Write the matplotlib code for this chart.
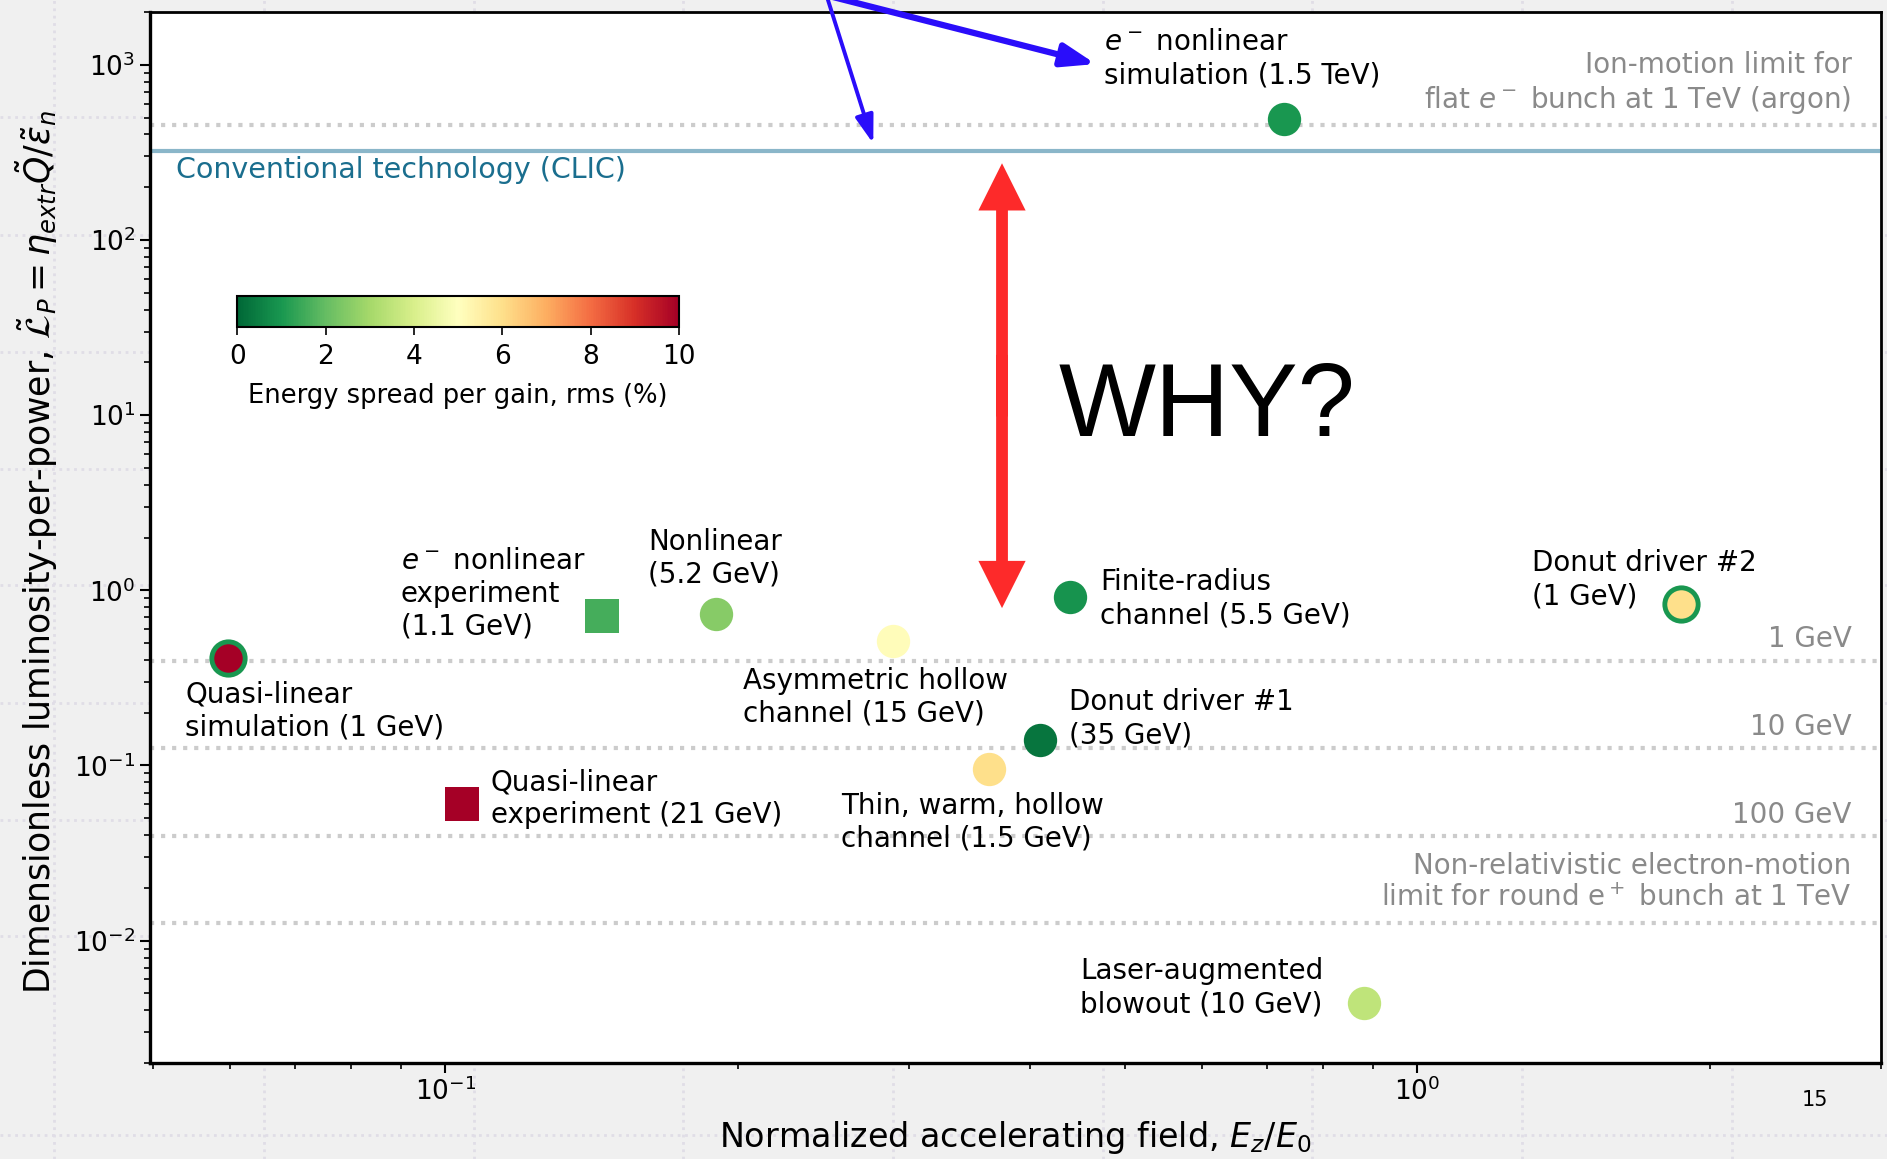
import matplotlib
matplotlib.use("Agg")
import matplotlib.pyplot as plt
import matplotlib.transforms as mtransforms
from matplotlib.lines import Line2D
from matplotlib.patches import FancyArrowPatch

# ---- data ----
point_labels = [
    "Quasi-linear\nsimulation (1 GeV)",
    "Quasi-linear\nexperiment (21 GeV)",
    "$e^-$ nonlinear\nexperiment\n(1.1 GeV)",
    "Nonlinear\n(5.2 GeV)",
    "Asymmetric hollow\nchannel (15 GeV)",
    "Thin, warm, hollow\nchannel (1.5 GeV)",
    "Donut driver #1\n(35 GeV)",
    "Finite-radius\nchannel (5.5 GeV)",
    "$e^-$ nonlinear\nsimulation (1.5 TeV)",
    "Laser-augmented\nblowout (10 GeV)",
    "Donut driver #2\n(1 GeV)",
]
field = [0.0598, 0.104, 0.145, 0.190, 0.289, 0.363, 0.409, 0.439, 0.730, 0.881, 1.867]
lum_per_power = [0.41, 0.060, 0.71, 0.73, 0.515, 0.095, 0.140, 0.91, 493, 0.0044, 0.84]
energy_spread = [10, 10, 1.6, 2.5, 5.1, 6.0, 0.3, 0.9, 1.0, 3.5, 6.0]
is_experiment = [False, True, True, False, False, False, False, False, False, False, False]
ring_spread = [1.0, None, None, None, None, None, None, None, None, None, 1.0]

limit_labels = [
    "Ion-motion limit for\nflat $e^-$ bunch at 1 TeV (argon)",
    "1 GeV",
    "10 GeV",
    "100 GeV",
    "Non-relativistic electron-motion\nlimit for round e$^+$ bunch at 1 TeV",
]
limit_values = [452, 0.397, 0.1265, 0.0397, 0.01265]
clic_value = 323

# "why?" arrow: ends of the double arrow (field, luminosity)
gap_field = 0.374
gap_low, gap_high = 0.791, 274

# label offsets from each marker (points)
label_offsets = [(-31, -16), (21, 26), (-145, 50), (-49, 62), (-108, -19), (-107, -16),
                 (21, 37), (22, 21), (-130, 65), (-204, 33), (-107, 39)]
limit_offsets = [12.5, 9.7, 9.0, 9.4, 12.0]

cmap = plt.get_cmap("RdYlGn_r")
norm = plt.Normalize(0, 10)

fig = plt.figure(figsize=(18.87, 11.59), dpi=100, facecolor="#f0f0f0")

# faint dotted background grid of the page the figure sits on
for xp in [54, 264, 474, 683, 893, 1103, 1312, 1522, 1732]:
    fig.add_artist(Line2D([xp / 1887, xp / 1887], [0, 1], transform=fig.transFigure,
                          color="#e0dde6", lw=2, ls=":", zorder=-1))
for yp in [117, 235, 352, 469, 585, 703, 820, 936, 1135]:
    fig.add_artist(Line2D([0, 1], [1 - yp / 1159, 1 - yp / 1159], transform=fig.transFigure,
                          color="#e0dde6", lw=2, ls=":", zorder=-1))

ax = fig.add_axes([0.0795, 0.0828, 0.9173, 0.9068])
ax.set_xscale("log")
ax.set_yscale("log")
ax.set_xlim(0.0497, 3.0)
ax.set_ylim(0.002, 2000)

# limit lines
lab_trans = mtransforms.blended_transform_factory(ax.transAxes, ax.transData)
for val, txt, off in zip(limit_values, limit_labels, limit_offsets):
    ax.axhline(val, color="#cccccc", lw=3, ls=":", zorder=1)
    ax.annotate(txt, xy=(0.983, val), xycoords=lab_trans, xytext=(0, off),
                textcoords="offset points", ha="right", va="baseline",
                fontsize=20, color="#8a8a8a", multialignment="right", linespacing=1.2)

ax.axhline(clic_value, color="#8ab6c9", lw=3, zorder=1)
ax.annotate("Conventional technology (CLIC)", xy=(0.015, clic_value), xycoords=lab_trans,
            xytext=(0, -4), textcoords="offset points", ha="left", va="top",
            fontsize=20.5, color="#1a6e8e")

# points
for x, y, s, sq, ring in zip(field, lum_per_power, energy_spread, is_experiment, ring_spread):
    edge = cmap(norm(ring)) if ring is not None else cmap(norm(s))
    ax.plot(x, y, marker="s" if sq else "o", ms=25 if sq else 24,
            mfc=cmap(norm(s)), mec=edge, mew=3.5 if ring is not None else 0,
            ls="none", zorder=4)

for x, y, txt, (dx, dy) in zip(field, lum_per_power, point_labels, label_offsets):
    ax.annotate(txt, xy=(x, y), xytext=(dx, dy), textcoords="offset points",
                ha="left", va="top", fontsize=20, linespacing=1.22, zorder=5)

# red double arrow, drawn as two filled arrows that overlap in the middle
gap_mid = (gap_low * gap_high) ** 0.5
for start, end in ((gap_mid * 1.5, gap_low), (gap_mid / 1.5, gap_high)):
    ax.add_patch(FancyArrowPatch((gap_field, start), (gap_field, end),
                                 arrowstyle="simple,head_length=34,head_width=34,tail_width=8.5",
                                 mutation_scale=1, lw=0, color="#fd2a2a",
                                 shrinkA=0, shrinkB=0, zorder=3))
ax.text(0.4278, 7.59, "WHY?", fontsize=74, family="Liberation Sans", va="baseline", ha="left")

# blue arrows coming in from above the frame
blue1 = FancyArrowPatch((0.210, 3130), (0.467, 1010),
                        arrowstyle="-|>,head_length=20,head_width=7",
                        mutation_scale=1, lw=4.5, color="#2a0dfa",
                        shrinkA=0, shrinkB=0, clip_on=False, zorder=6)
blue2 = FancyArrowPatch((0.2436, 3130), (0.2757, 355),
                        arrowstyle="-|>,head_length=17,head_width=5.5",
                        mutation_scale=1, lw=2.8, color="#2a0dfa",
                        shrinkA=0, shrinkB=0, clip_on=False, zorder=6)
ax.add_patch(blue1)
ax.add_patch(blue2)

# axes styling
for side in ["left", "bottom"]:
    ax.spines[side].set_linewidth(2.4)
for side in ["top", "right"]:
    ax.spines[side].set_linewidth(2.0)
ax.tick_params(which="major", direction="out", length=7, width=1.5, labelsize=19,
               top=False, right=False)
ax.tick_params(which="minor", direction="out", length=4, width=1.2, top=False, right=False)
ax.xaxis.set_minor_formatter(matplotlib.ticker.NullFormatter())

ax.set_xlabel("Normalized accelerating field, $E_z/E_0$", fontsize=24, va="top")
ax.xaxis.set_label_coords(0.5, -0.053)
ax.set_ylabel(r"Dimensionless luminosity-per-power, $\tilde{\mathcal{L}}_P = \eta_{extr}\tilde{Q}/\tilde{\varepsilon}_n$",
              fontsize=25, loc="bottom")
ax.yaxis.set_label_coords(-0.052, 0.066)

# colorbar
cax = ax.inset_axes([0.0505, 0.700, 0.255, 0.0295])
sm = matplotlib.cm.ScalarMappable(norm=norm, cmap=cmap)
cb = fig.colorbar(sm, cax=cax, orientation="horizontal", ticks=[0, 2, 4, 6, 8, 10])
cb.outline.set_linewidth(1.5)
cb.ax.tick_params(labelsize=19, length=6, width=1.2, pad=6)
cb.set_label("Energy spread per gain, rms (%)", fontsize=18.5, labelpad=9)

fig.text(1815 / 1887, 1 - 1100 / 1159, "15", ha="center", va="center", fontsize=15)

fig.savefig("out.png", dpi=100, facecolor=fig.get_facecolor())
